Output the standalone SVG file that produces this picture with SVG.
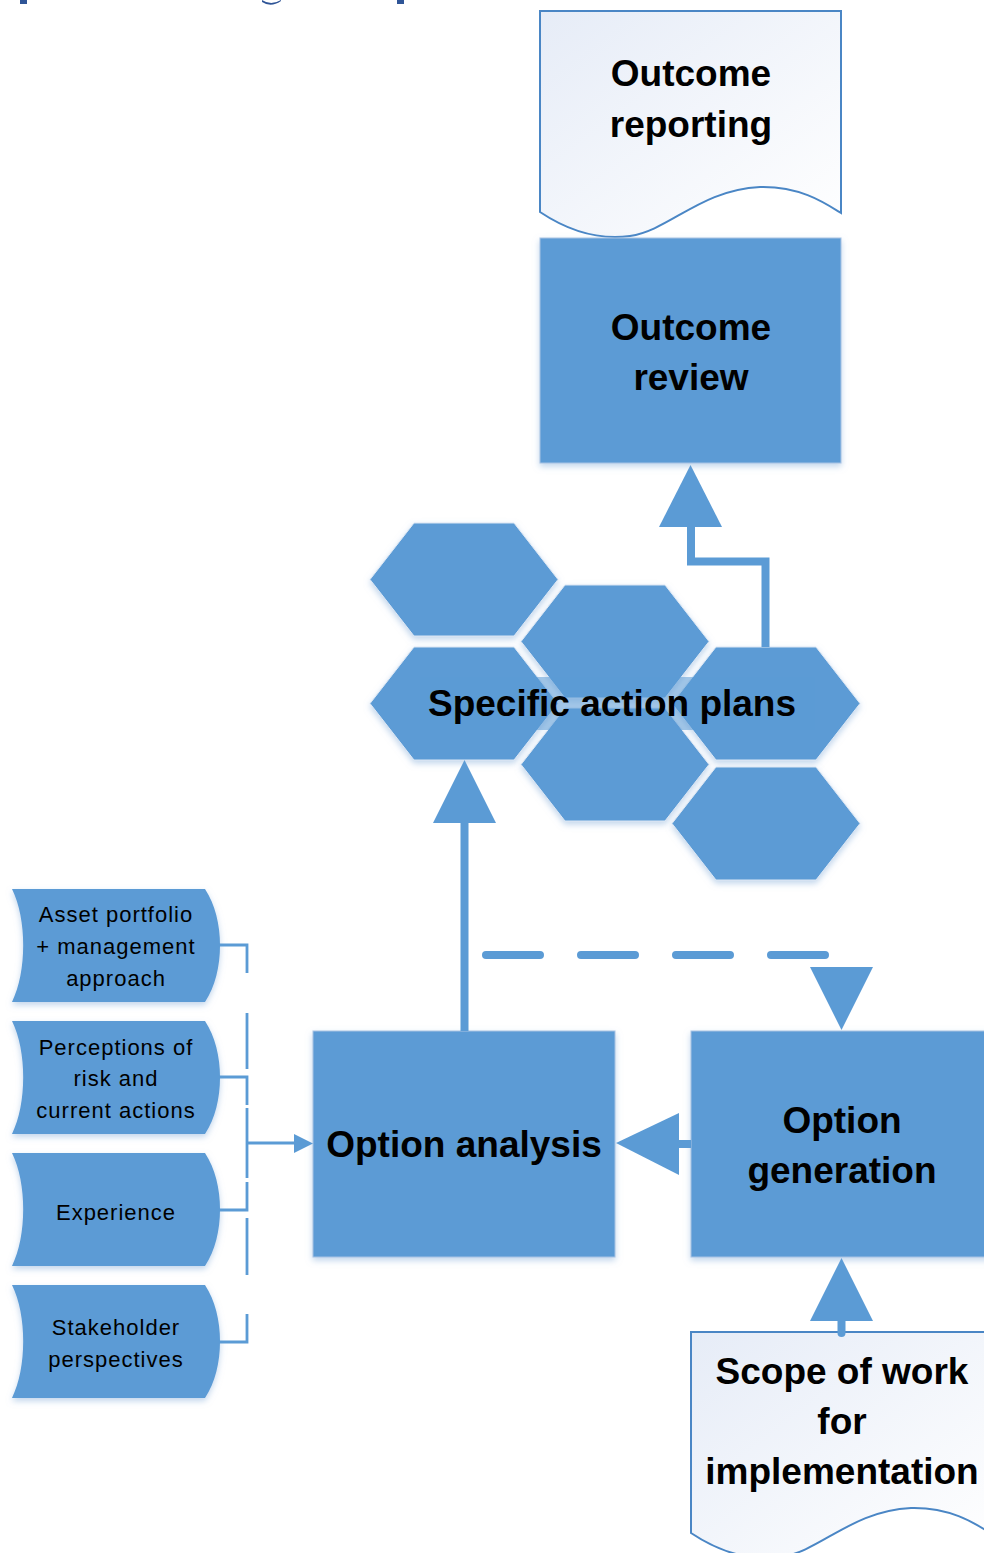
<svg xmlns="http://www.w3.org/2000/svg" width="984" height="1553" viewBox="0 0 984 1553">
<defs>
<linearGradient id="docGrad" x1="0" y1="0" x2="1" y2="1">
<stop offset="0" stop-color="#E6ECF7"/>
<stop offset="1" stop-color="#FFFFFF"/>
</linearGradient>
<filter id="shadow" x="-10%" y="-10%" width="120%" height="125%">
<feDropShadow dx="0" dy="3" stdDeviation="3" flood-color="#8FB2DD" flood-opacity="0.55"/>
</filter>
</defs>
<style>
.box{fill:#5B9BD5;stroke:#A9C3E4;stroke-width:1;filter:url(#shadow)}
.hex{fill:#5B9BD5;stroke:#DCE7F4;stroke-width:1;filter:url(#shadow)}
.doc{fill:url(#docGrad);stroke:#4A86C5;stroke-width:2}
.src{fill:#5B9BD5;filter:url(#shadow)}
.big{font-family:"Liberation Sans",Arial,sans-serif;font-weight:bold;font-size:37px;fill:#000;text-anchor:middle}
.small{font-family:"Liberation Sans",Arial,sans-serif;font-size:22px;letter-spacing:1px;fill:#000;text-anchor:middle}
.thick{fill:none;stroke:#5B9BD5;stroke-width:8}
.thin{fill:none;stroke:#5B9BD5;stroke-width:2.8}
.head{fill:#5B9BD5}
</style>

<g id="title-fragments" fill="#2F5597">
<rect x="20" y="0" width="7" height="4"/>
<path d="M262,0 Q271,6 281,0 L281,1 Q271,8 262,2 Z"/>
<rect x="397" y="0" width="7" height="4"/>
</g>

<g id="outcome-reporting">
<path class="doc" d="M540,11 H841 V213 C825,203 800,186 760,187 C700,190 670,230 630,236 C600,240 570,232 540,212 Z"/>
<text class="big" x="691" y="86">Outcome</text>
<text class="big" x="691" y="137">reporting</text>
</g>

<g id="outcome-review">
<rect class="box" x="540" y="238" width="301" height="225"/>
<text class="big" x="691" y="340">Outcome</text>
<text class="big" x="691" y="390">review</text>
</g>

<g id="specific-action-plans">
<polygon class="hex" points="370,579.5 414,523 514,523 558,579.5 514,636 414,636"/>
<polygon class="hex" points="521,641.5 565,585 665,585 709,641.5 665,698 565,698"/>
<polygon class="hex" points="370,703.5 414,647 514,647 558,703.5 514,760 414,760"/>
<polygon class="hex" points="521,764.5 565,708 665,708 709,764.5 665,821 565,821"/>
<polygon class="hex" points="672,703.5 716,647 816,647 860,703.5 816,760 716,760"/>
<polygon class="hex" points="672,823.5 716,767 816,767 860,823.5 816,880 716,880"/>
<rect x="420" y="677" width="395" height="53" fill="#5B9BD5" opacity="0.55"/>
<text class="big" x="612" y="716">Specific action plans</text>
</g>

<g id="option-analysis">
<rect class="box" x="313" y="1031" width="302" height="226"/>
<text class="big" x="464" y="1157">Option analysis</text>
</g>

<g id="option-generation">
<rect class="box" x="691" y="1031" width="302" height="226"/>
<text class="big" x="842" y="1133">Option</text>
<text class="big" x="842" y="1183">generation</text>
</g>

<g id="scope-of-work">
<path class="doc" d="M691,1332 H992 V1534 C976,1524 951,1507 911,1508 C851,1511 821,1551 781,1557 C751,1561 721,1553 691,1533 Z"/>
<text class="big" x="842" y="1384">Scope of work</text>
<text class="big" x="842" y="1434">for</text>
<text class="big" x="842" y="1484">implementation</text>
</g>

<g id="asset-portfolio">
<path class="src" d="M12,889 H205 C225,919 225,972 205,1002 H12 C27,972 27,919 12,889 Z"/>
<text class="small" x="116" y="922">Asset portfolio</text>
<text class="small" x="116" y="954">+ management</text>
<text class="small" x="116" y="986">approach</text>
</g>

<g id="perceptions">
<path class="src" d="M12,1021 H205 C225,1051 225,1104 205,1134 H12 C27,1104 27,1051 12,1021 Z"/>
<text class="small" x="116" y="1055">Perceptions of</text>
<text class="small" x="116" y="1086">risk and</text>
<text class="small" x="116" y="1118">current actions</text>
</g>

<g id="experience">
<path class="src" d="M12,1153 H205 C225,1183 225,1236 205,1266 H12 C27,1236 27,1183 12,1153 Z"/>
<text class="small" x="116" y="1220">Experience</text>
</g>

<g id="stakeholder">
<path class="src" d="M12,1285 H205 C225,1315 225,1368 205,1398 H12 C27,1368 27,1315 12,1285 Z"/>
<text class="small" x="116" y="1335">Stakeholder</text>
<text class="small" x="116" y="1367">perspectives</text>
</g>

<g id="connectors">
<!-- left inputs bracket -->
<path class="thin" d="M219,945 H247 V973"/>
<path class="thin" d="M247,1013 V1069"/>
<path class="thin" d="M219,1077 H247 V1105"/>
<path class="thin" d="M247,1108 V1178"/>
<path class="thin" d="M247,1182 V1210 H219"/>
<path class="thin" d="M247,1218 V1275"/>
<path class="thin" d="M247,1314 V1342 H219"/>
<path class="thin" d="M247,1143 H297"/>
<polygon class="head" points="294,1134 313,1143.5 294,1153"/>

<!-- option analysis to action plans -->
<path class="thick" d="M464.5,1031 V820"/>
<polygon class="head" points="433,823 496,823 464.5,760"/>

<!-- action plans to outcome review -->
<path class="thick" d="M765.5,647 V561.5 H691 V524"/>
<polygon class="head" points="659,527 722,527 690.5,465"/>

<!-- dashed feedback -->
<path d="M486,955 H828" fill="none" stroke="#5B9BD5" stroke-width="8" stroke-linecap="round" stroke-dasharray="54 41"/>
<polygon class="head" points="810,967 873,967 841.5,1030"/>

<!-- option generation to option analysis -->
<path class="thick" d="M691,1144 H676"/>
<polygon class="head" points="679,1113 679,1175 616,1143"/>

<!-- scope to option generation -->
<path class="thick" d="M841.5,1333 V1318" stroke-linecap="round"/>
<polygon class="head" points="810,1321 873,1321 841.5,1258"/>
</g>
</svg>
